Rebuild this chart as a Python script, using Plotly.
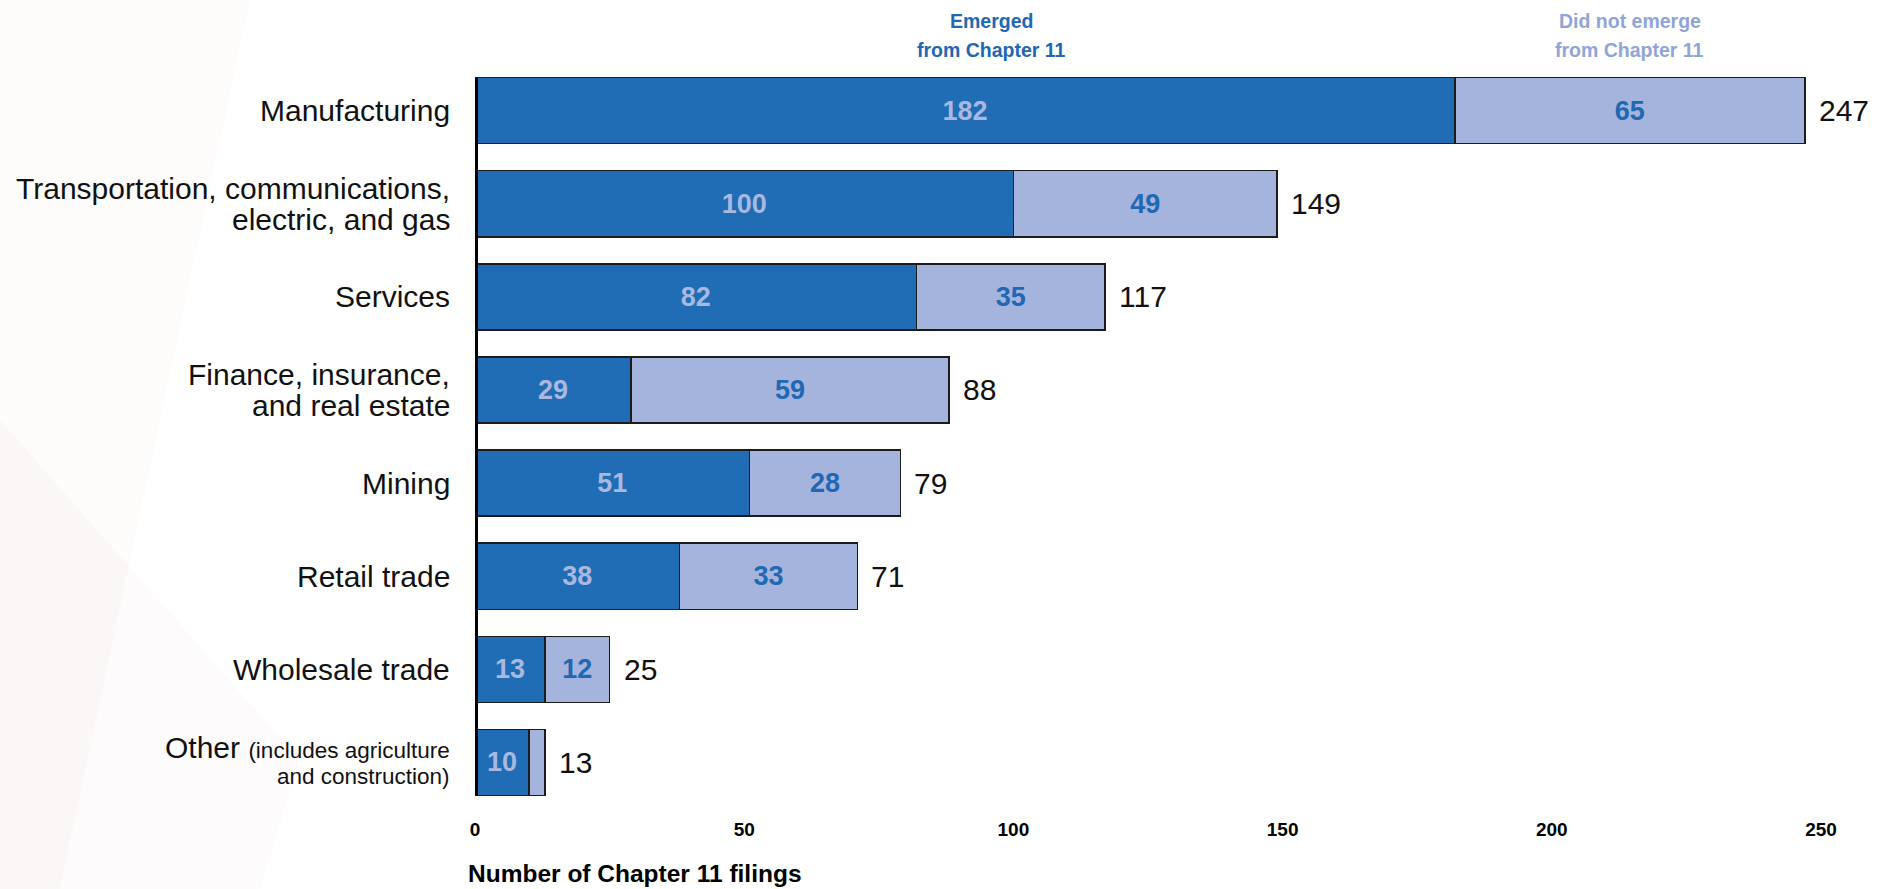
import plotly.graph_objects as go

# Chapter 11 filings by industry, split by outcome
categories = [
    "Manufacturing",
    "Transportation, communications, electric, and gas",
    "Services",
    "Finance, insurance, and real estate",
    "Mining",
    "Retail trade",
    "Wholesale trade",
    "Other (includes agriculture and construction)",
]
label_lines = [
    ["Manufacturing"],
    ["Transportation, communications,", "electric, and gas"],
    ["Services"],
    ["Finance, insurance,", "and real estate"],
    ["Mining"],
    ["Retail trade"],
    ["Wholesale trade"],
    ["Other <span style='font-size:22.5px'>(includes agriculture</span>",
     "<span style='font-size:22.5px'>and construction)</span>"],
]
emerged = [182, 100, 82, 29, 51, 38, 13, 10]
not_emerged = [65, 49, 35, 59, 28, 33, 12, 3]
totals = [247, 149, 117, 88, 79, 71, 25, 13]
x_ticks = [0, 50, 100, 150, 200, 250]

DARK = "#206CB5"
LIGHT = "#A5B4DC"
DARK_TXT = "#2068B3"
LIGHT_TXT = "#A9B8DF"
HDR_LIGHT = "#8FA4D7"
OUTLINE = "#1c1c1c"

SANS = "Liberation Sans, Arial, sans-serif"

W, H = 1885, 889
ML, MR, MT, MB = 475, 64, 64, 80
PW = W - ML - MR
PH = H - MT - MB


def paper_y(py):
    """Convert a pixel row (from the top of the page) to paper units."""
    return (H - MB - py) / PH


def paper_x(px):
    """Convert a pixel column (from the left of the page) to paper units."""
    return (px - ML) / PW


fig = go.Figure()
fig.add_trace(go.Bar(
    y=categories, x=emerged, orientation="h", name="Emerged from Chapter 11",
    marker=dict(color=DARK, line=dict(color=OUTLINE, width=1.5)),
    text=[str(v) for v in emerged], textposition="inside",
    insidetextanchor="middle", textangle=0,
    textfont=dict(family=SANS, size=27, color=LIGHT_TXT, weight="bold"),
    hoverinfo="skip",
))
fig.add_trace(go.Bar(
    y=categories, x=not_emerged, orientation="h", name="Did not emerge from Chapter 11",
    marker=dict(color=LIGHT, line=dict(color=OUTLINE, width=1.5)),
    text=[str(v) if v >= 10 else "" for v in not_emerged], textposition="inside",
    insidetextanchor="middle", textangle=0,
    textfont=dict(family=SANS, size=27, color=DARK_TXT, weight="bold"),
    hoverinfo="skip",
))

annotations = []
# totals at the end of each bar
for cat, tot in zip(categories, totals):
    annotations.append(dict(
        x=tot, y=cat, xref="x", yref="y", text=str(tot), showarrow=False,
        xanchor="left", xshift=12, font=dict(family=SANS, size=30, color="#111111"),
    ))

# category labels, right-aligned beside the axis
for cat, lines in zip(categories, label_lines):
    n = len(lines)
    if cat.startswith("Other"):
        shifts = [15, -14]
    else:
        shifts = [(-(i - (n - 1) / 2)) * 31 for i in range(n)]
    for line, ys in zip(lines, shifts):
        annotations.append(dict(
            x=paper_x(452), y=cat, xref="paper", yref="y", text=line, showarrow=False,
            xanchor="right", yanchor="middle", yshift=ys,
            font=dict(family=SANS, size=30, color="#111111"),
        ))

# series headers above the first bar
for xv, lines, col in [(96, ["Emerged", "from Chapter 11"], DARK_TXT),
                       (214.5, ["Did not emerge", "from Chapter 11"], HDR_LIGHT)]:
    for line, py in zip(lines, [20.5, 50.5]):
        annotations.append(dict(
            x=xv, y=paper_y(py), xref="x", yref="paper", text=line, showarrow=False,
            xanchor="center", yanchor="middle",
            font=dict(family=SANS, size=19.5, color=col, weight="bold"),
        ))

# axis title
annotations.append(dict(
    x=paper_x(466), y=paper_y(873), xref="paper", yref="paper",
    text="Number of Chapter 11 filings", showarrow=False,
    xanchor="left", yanchor="middle",
    font=dict(family=SANS, size=24.5, color="#000000", weight="bold"),
))

shapes = [
    # heavy baseline at zero spanning the bars
    dict(type="line", xref="x", yref="y", x0=0, x1=0, y0=-0.355, y1=7.355,
         line=dict(color="#000000", width=6), layer="above"),
    # faint flag watermark on the left
    dict(type="path", xref="paper", yref="paper",
         path=(f"M {paper_x(0)} {paper_y(0)} L {paper_x(250)} {paper_y(0)} "
               f"L {paper_x(60)} {paper_y(889)} L {paper_x(0)} {paper_y(889)} Z"),
         fillcolor="rgba(214,90,90,0.025)", line=dict(width=0), layer="below"),
    dict(type="path", xref="paper", yref="paper",
         path=(f"M {paper_x(0)} {paper_y(420)} L {paper_x(300)} {paper_y(760)} "
               f"L {paper_x(260)} {paper_y(889)} L {paper_x(0)} {paper_y(889)} Z"),
         fillcolor="rgba(190,70,70,0.022)", line=dict(width=0), layer="below"),
]

fig.update_layout(
    width=W, height=H, barmode="stack", bargap=0.29,
    margin=dict(l=ML, r=MR, t=MT, b=MB, autoexpand=False),
    paper_bgcolor="#ffffff", plot_bgcolor="rgba(0,0,0,0)",
    showlegend=False, annotations=annotations, shapes=shapes,
    xaxis=dict(range=[0, 250], tickvals=x_ticks, ticktext=[str(v) for v in x_ticks],
               showgrid=False, zeroline=False, showline=False, ticks="",
               ticklabelstandoff=7,
               tickfont=dict(family=SANS, size=19, color="#000000", weight="bold")),
    yaxis=dict(categoryorder="array", categoryarray=categories,
               autorange="reversed", showticklabels=False,
               showgrid=False, zeroline=False, showline=False, ticks=""),
)
fig.update_traces(cliponaxis=False, constraintext="none")

fig.write_html("out.html")
